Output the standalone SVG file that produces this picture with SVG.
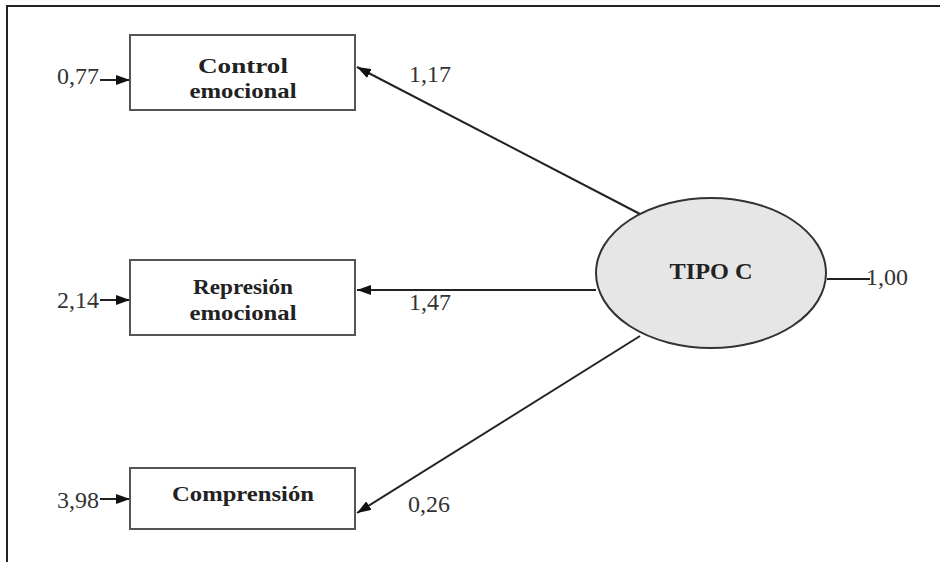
<svg xmlns="http://www.w3.org/2000/svg" width="940" height="562" viewBox="0 0 940 562">
<defs>
<style>
.box{fill:#fff;stroke:#555;stroke-width:2}
.lbl{font-family:"Liberation Serif","DejaVu Serif",serif;font-weight:700;font-size:22px;fill:#222;text-anchor:middle}
.num{font-family:"Liberation Serif",serif;font-size:24px;fill:#333}
.ln{stroke:#222;stroke-width:2;fill:none}
</style>
<marker id="ah" viewBox="0 0 14 10" refX="14" refY="5" markerWidth="14" markerHeight="10" markerUnits="userSpaceOnUse" orient="auto">
<path d="M0,0 L14,5 L0,10 Z" fill="#111"/>
</marker>
</defs>
<rect width="940" height="562" fill="#fff"/>
<path d="M7,562 V6 H940" fill="none" stroke="#222" stroke-width="2"/>
<g id="connectors">
<line class="ln" x1="640" y1="214" x2="357" y2="67" marker-end="url(#ah)"/>
<line class="ln" x1="596" y1="290" x2="357" y2="290" marker-end="url(#ah)"/>
<line class="ln" x1="640" y1="336" x2="357" y2="513" marker-end="url(#ah)"/>
<line class="ln" x1="100" y1="80" x2="130" y2="80" marker-end="url(#ah)"/>
<line class="ln" x1="100" y1="300" x2="130" y2="300" marker-end="url(#ah)"/>
<line class="ln" x1="100" y1="499" x2="130" y2="499" marker-end="url(#ah)"/>
<line class="ln" x1="827" y1="279" x2="870" y2="279"/>
<text class="num" x="57" y="84">0,77</text>
<text class="num" x="57" y="308">2,14</text>
<text class="num" x="57" y="508">3,98</text>
<text class="num" x="409" y="82">1,17</text>
<text class="num" x="409" y="310">1,47</text>
<text class="num" x="408" y="512">0,26</text>
<text class="num" x="866" y="285">1,00</text>
</g>
<g id="control">
<rect class="box" x="130" y="35" width="225" height="75"/>
<text class="lbl" x="243" y="73" textLength="90" lengthAdjust="spacingAndGlyphs">Control</text>
<text class="lbl" x="243" y="98" textLength="107" lengthAdjust="spacingAndGlyphs">emocional</text>
</g>
<g id="represion">
<rect class="box" x="130" y="260" width="225" height="75"/>
<text class="lbl" x="243" y="294" textLength="100" lengthAdjust="spacingAndGlyphs">Represión</text>
<text class="lbl" x="243" y="320" textLength="107" lengthAdjust="spacingAndGlyphs">emocional</text>
</g>
<g id="comprension">
<rect class="box" x="130" y="468" width="225" height="61"/>
<text class="lbl" x="243" y="501" textLength="142" lengthAdjust="spacingAndGlyphs">Comprensión</text>
</g>
<g id="tipoc">
<ellipse cx="711" cy="273" rx="115" ry="75" fill="#e6e6e6" stroke="#333" stroke-width="2"/>
<text class="lbl" x="711" y="279" style="font-size:23px" textLength="83" lengthAdjust="spacingAndGlyphs">TIPO C</text>
</g>
</svg>
